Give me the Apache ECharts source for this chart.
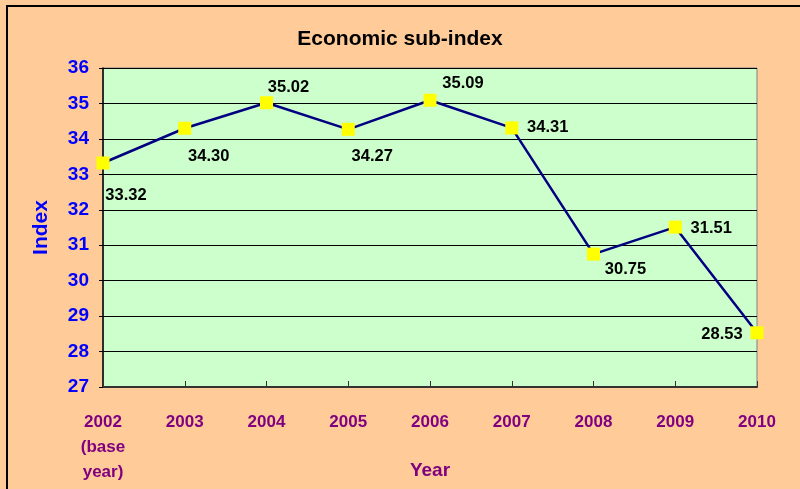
<!DOCTYPE html>
<html>
<head>
<meta charset="utf-8">
<script src="https://cdn.jsdelivr.net/npm/echarts@6/dist/echarts.min.js"></script>
<style>
  html, body { margin: 0; padding: 0; background: #fff; }
  #main { width: 800px; height: 489px; }
</style>
</head>
<body>
<div id="main"></div>
<script>
// chart data
var years = ['2002\n(base\nyear)', '2003', '2004', '2005', '2006', '2007', '2008', '2009', '2010'];
var indexValues = [33.32, 34.30, 35.02, 34.27, 35.09, 34.31, 30.75, 31.51, 28.53];
var yTicks = [27, 28, 29, 30, 31, 32, 33, 34, 35, 36];

// where each value label sits relative to its marker
var labelOffsets = [[23, 32], [24, 28], [22, -15], [24, 27], [33, -17], [36, 0], [32, 15], [36, 1], [-35, 2]];

var font = 'Liberation Sans, Arial, sans-serif';

var myChart = echarts.init(document.getElementById('main'));
myChart.setOption({
    backgroundColor: '#FFCC99',
    animation: false,
    textStyle: { fontFamily: font },
    title: {
        text: 'Economic sub-index',
        left: 'center',
        top: 24,
        textStyle: { fontSize: 21, fontWeight: 'bold', color: '#000', fontFamily: font }
    },
    graphic: [{
        type: 'rect',
        shape: { x: 7, y: 6, width: 820, height: 520 },
        style: { fill: 'none', stroke: '#000', lineWidth: 2 },
        silent: true
    }],
    grid: {
        left: 103, top: 68, right: 43, bottom: 102,
        outerBoundsMode: 'none',
        containLabel: false,
        show: true,
        backgroundColor: '#CCFFCC',
        borderColor: '#808080',
        borderWidth: 1
    },
    xAxis: {
        type: 'category',
        data: years,
        boundaryGap: false,
        name: 'Year',
        nameLocation: 'middle',
        nameGap: 74,
        nameMoveOverlap: false,
        nameTextStyle: { color: '#800080', fontSize: 19, fontWeight: 'bold', fontFamily: font },
        axisLine: { lineStyle: { color: '#333', width: 2 } },
        axisTick: { inside: true, length: 6, lineStyle: { color: '#333' } },
        axisLabel: {
            color: '#800080', fontSize: 17, fontWeight: 'bold', margin: 23,
            lineHeight: 25, fontFamily: font, verticalAlign: 'top'
        },
        splitLine: { show: false }
    },
    yAxis: {
        type: 'value',
        min: yTicks[0],
        max: yTicks[yTicks.length - 1],
        interval: 1,
        name: 'Index',
        nameLocation: 'middle',
        nameGap: 51,
        nameMoveOverlap: false,
        nameTextStyle: { color: '#0000FF', fontSize: 21, fontWeight: 'bold', fontFamily: font },
        axisLine: { show: true, lineStyle: { color: '#000', width: 1.5 } },
        axisTick: { show: true, length: 4, lineStyle: { color: '#000' } },
        axisLabel: { color: '#0000FF', fontSize: 19, fontWeight: 'bold', margin: 14, fontFamily: font },
        splitLine: { lineStyle: { color: '#000', width: 1 } }
    },
    series: [{
        type: 'line',
        data: indexValues.map(function (v, i) {
            return {
                value: v,
                label: { position: 'inside', offset: labelOffsets[i] }
            };
        }),
        symbol: 'rect',
        symbolSize: 13,
        itemStyle: { color: '#FFFF00', borderWidth: 0 },
        lineStyle: { color: '#000080', width: 2.5 },
        label: {
            show: true,
            color: '#000',
            fontSize: 16.5,
            fontWeight: 'bold',
            fontFamily: font,
            formatter: function (p) { return p.value.toFixed(2); }
        },
        z: 3
    }]
});
</script>
</body>
</html>
